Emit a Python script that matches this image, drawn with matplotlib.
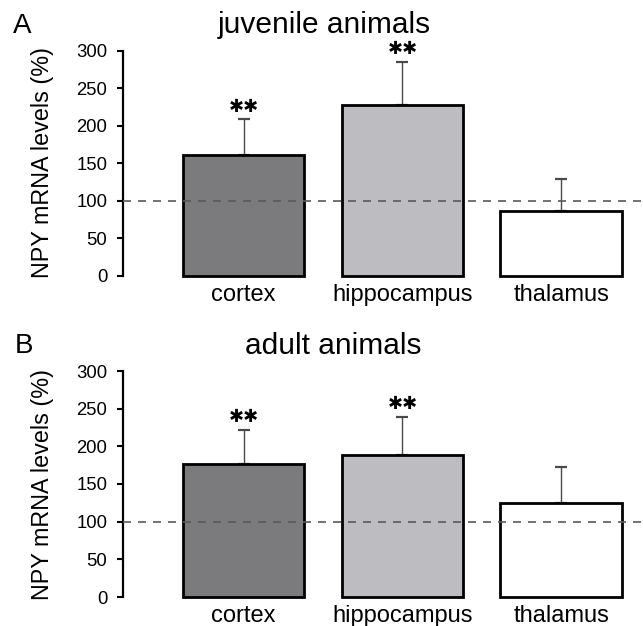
import matplotlib
matplotlib.use("Agg")
import matplotlib.pyplot as plt
import numpy as np

plt.rcParams['font.family'] = ['Liberation Sans', 'DejaVu Sans']

regions = ['cortex', 'hippocampus', 'thalamus']
bar_colors = ['#7b7b7e', '#bdbdc1', '#ffffff']

juvenile_mean = [161, 228, 86]
juvenile_err = [48, 57, 43]
juvenile_sig = ['**', '**', '']

adult_mean = [176, 189, 125]
adult_err = [46, 50, 48]
adult_sig = ['**', '**', '']

yticks = [0, 50, 100, 150, 200, 250, 300]
reference_level = 100

W, H = 643, 626
fig = plt.figure(figsize=(W / 100, H / 100), dpi=100)
fig.patch.set_facecolor('white')


def px_ax(left, right, top0, bottom0):
    return [left / W, 1 - bottom0 / H, (right - left) / W, (bottom0 - top0) / H]


panels = [
    dict(rect=px_ax(123, 643, 50.7, 276), mean=juvenile_mean, err=juvenile_err,
         sig=juvenile_sig, title='juvenile animals', letter='A',
         title_xy=(324.5, 33), letter_xy=(13, 33), ylab_y=163),
    dict(rect=px_ax(123, 643, 371, 597), mean=adult_mean, err=adult_err,
         sig=adult_sig, title='adult animals', letter='B',
         title_xy=(333, 354), letter_xy=(15, 353), ylab_y=484),
]

x = np.arange(len(regions))
for p in panels:
    ax = fig.add_axes(p['rect'])
    ax.set_facecolor('none')
    ax.bar(x, p['mean'], width=0.767, color=bar_colors, edgecolor='black',
           linewidth=2.0, zorder=2, clip_on=False)
    ax.errorbar(x, p['mean'], yerr=[np.zeros(len(x)), p['err']], fmt='none',
                ecolor='#4a4a4a', elinewidth=1.0, capsize=4.3, capthick=1.6,
                zorder=1, clip_on=False)
    ax.axhline(reference_level, color='#5a5a5a', linewidth=1.2,
               dashes=(4.8, 4.2), zorder=3)
    for xi, m, e, s in zip(x, p['mean'], p['err'], p['sig']):
        if s:
            ax.annotate('\u2731\u2731', xy=(xi, m + e), xytext=(0, 9),
                        textcoords='offset points', ha='center', va='center',
                        fontsize=13, fontweight='bold', family='DejaVu Sans',
                        color='black')
    ax.set_xlim(-0.758, 2.513)
    ax.set_ylim(0, 300)
    ax.set_yticks(yticks)
    ax.set_xticks(x)
    ax.set_xticklabels(regions, fontsize=17)
    ax.tick_params(axis='x', length=0, pad=6)
    ax.tick_params(axis='y', direction='out', length=4.3, width=1.5,
                   labelsize=13.3, pad=7)
    for side in ['top', 'right', 'bottom']:
        ax.spines[side].set_visible(False)
    ax.spines['left'].set_linewidth(1.6)

    tx, ty = p['title_xy']
    fig.text(tx / W, 1 - ty / H, p['title'], ha='center', va='baseline',
             fontsize=21.5)
    lx, ly = p['letter_xy']
    fig.text(lx / W, 1 - ly / H, p['letter'], ha='left', va='baseline',
             fontsize=20)
    fig.text(43 / W, 1 - p['ylab_y'] / H, 'NPY mRNA levels (%)', rotation=90,
             ha='center', va='center', fontsize=16.8)

fig.savefig('out.png', dpi=100, facecolor='white')
